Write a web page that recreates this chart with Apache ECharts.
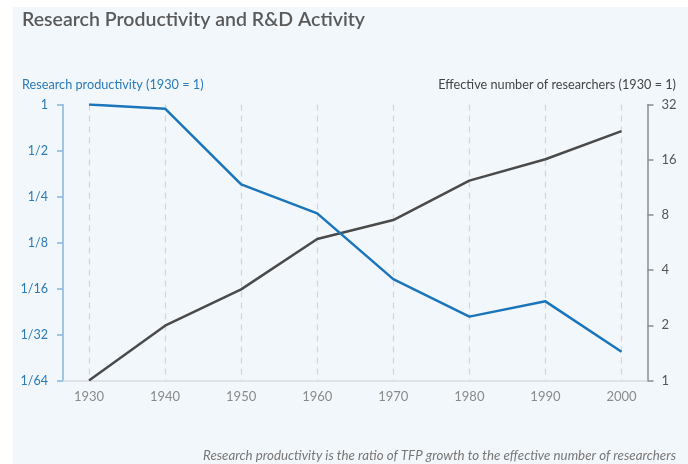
<!DOCTYPE html>
<html>
<head>
<meta charset="utf-8">
<script src="https://cdn.jsdelivr.net/npm/echarts@6/dist/echarts.min.js"></script>
<style>
html,body{margin:0;padding:0;background:#ffffff;}
#bg{position:absolute;left:13px;top:7px;width:675px;height:457px;background:#f2f7fb;}
#chart{position:absolute;left:0;top:0;width:688px;height:464px;}
</style>
</head>
<body>
<div id="bg"></div>
<div id="chart"></div>
<script>
const years = [1930, 1940, 1950, 1960, 1970, 1980, 1990, 2000];
const researchProductivity = [1, 0.939, 0.300, 0.194, 0.0720, 0.0409, 0.0515, 0.0241];
const effectiveResearchers = [1, 1.99, 3.14, 5.91, 7.50, 12.3, 16.1, 22.9];
const leftTickLabels = ['1/64', '1/32', '1/16', '1/8', '1/4', '1/2', '1'];
const rightTickLabels = ['1', '2', '4', '8', '16', '32'];

const FONT = 'Lato';
const chart = echarts.init(document.getElementById('chart'), null, {renderer: 'canvas'});

function leftFmt(v) {
  const e = Math.round(Math.log2(v));
  return leftTickLabels[e + 6];
}
function rightFmt(v) {
  const e = Math.round(Math.log2(v));
  return rightTickLabels[e];
}

chart.setOption({
  backgroundColor: 'transparent',
  animation: false,
  textStyle: {fontFamily: FONT},
  title: [
    {text: 'Research Productivity and R&D Activity', left: 22, top: 10, padding: 0,
     textStyle: {fontFamily: FONT, fontSize: 19.5, fontWeight: 600, color: '#595959'}},
    {text: 'Research productivity (1930 = 1)', left: 22, top: 78, padding: 0,
     textStyle: {fontFamily: FONT, fontSize: 12.7, fontWeight: 'normal', color: '#2a7ab8'}},
    {text: 'Effective number of researchers (1930 = 1)', right: 12, top: 78, padding: 0,
     textStyle: {fontFamily: FONT, fontSize: 12.7, fontWeight: 'normal', color: '#444444'}},
    {text: 'Research productivity is the ratio of TFP growth to the effective number of researchers', right: 12, top: 449, padding: 0,
     textStyle: {fontFamily: FONT, fontSize: 13.3, fontWeight: 'normal', fontStyle: 'italic', color: '#777777'}}
  ],
  grid: [
    {left: 63, right: 40.5, top: 104.5, bottom: 83.5},
    {left: 89, right: 66.5, top: 104.5, bottom: 83.5}
  ],
  xAxis: [
    {gridIndex: 0, type: 'value', min: 0, max: 1, silent: true,
     axisLine: {show: true, lineStyle: {color: '#d9dde2', width: 1.5}},
     axisTick: {show: false}, axisLabel: {show: false}, splitLine: {show: false}},
    {gridIndex: 1, type: 'value', min: 1930, max: 2000, interval: 10,
     axisLine: {show: false}, axisTick: {show: false},
     axisLabel: {color: '#8a8a8a', fontSize: 13, fontFamily: FONT, margin: 10, formatter: v => String(v)},
     splitLine: {show: true, lineStyle: {color: '#d2d5d9', type: [6, 5], width: 1.2}}}
  ],
  yAxis: [
    {gridIndex: 0, type: 'value', show: false},
    {gridIndex: 1, type: 'log', logBase: 2, min: 1/64, max: 1, splitNumber: 6, position: 'left', offset: 26,
     axisLine: {show: true, lineStyle: {color: '#86b6dd', width: 1.5}},
     axisTick: {show: true, length: 6, lineStyle: {color: '#86b6dd', width: 1.5}},
     axisLabel: {color: '#2a7ab8', fontSize: 12.5, fontFamily: FONT, margin: 15, formatter: leftFmt},
     splitLine: {show: false}},
    {gridIndex: 1, type: 'log', logBase: 2, min: 1, max: 32, splitNumber: 5, position: 'right', offset: 26,
     axisLine: {show: true, lineStyle: {color: '#8c8c8c', width: 1.5}},
     axisTick: {show: true, length: 6, lineStyle: {color: '#8c8c8c', width: 1.5}},
     axisLabel: {color: '#555555', fontSize: 13, fontFamily: FONT, margin: 14, formatter: rightFmt},
     splitLine: {show: false}}
  ],
  series: [
    {name: 'Effective number of researchers', type: 'line', xAxisIndex: 1, yAxisIndex: 2,
     data: years.map((y, i) => [y, effectiveResearchers[i]]),
     showSymbol: false, lineStyle: {color: '#4a4a4a', width: 2.5}, itemStyle: {color: '#4a4a4a'}},
    {name: 'Research productivity', type: 'line', xAxisIndex: 1, yAxisIndex: 1,
     data: years.map((y, i) => [y, researchProductivity[i]]),
     showSymbol: false, lineStyle: {color: '#1a75bb', width: 2.5}, itemStyle: {color: '#1a75bb'}}
  ]
});
</script>
</body>
</html>
